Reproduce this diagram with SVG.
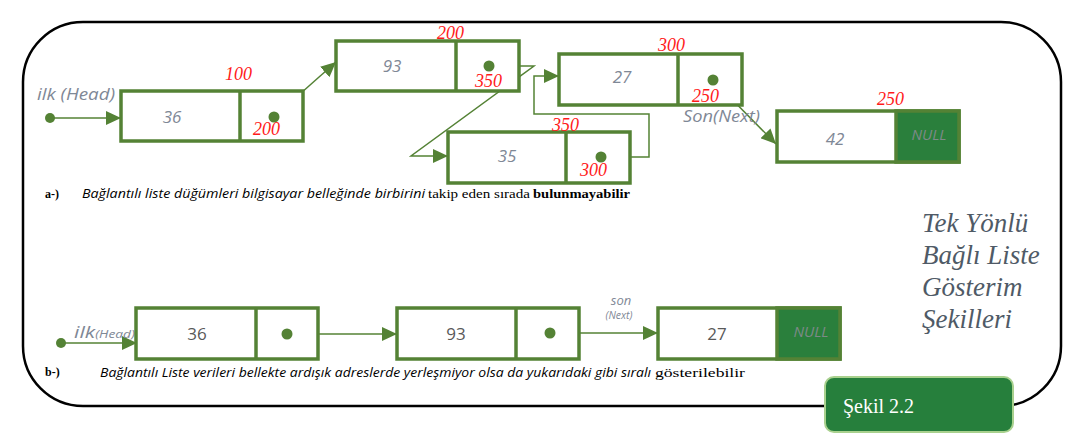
<svg xmlns="http://www.w3.org/2000/svg" width="1078" height="446" viewBox="0 0 1078 446">
<defs>
<style>
.frame{fill:none;stroke:#000;stroke-width:2.5}
.box{fill:#fff;stroke:#548235;stroke-width:3.5}
.div{stroke:#548235;stroke-width:3.5}
.null{fill:#2a7f3c;stroke:#548235;stroke-width:3.5}
.ln{fill:none;stroke:#548235;stroke-width:1.5}
.dot{fill:#548235}
.val{font-family:"Open Sans","Liberation Sans",sans-serif;font-style:italic;font-size:17px;fill:#7f8896;text-anchor:middle}
.val2{font-family:"Open Sans","Liberation Sans",sans-serif;font-size:17px;fill:#595959;text-anchor:middle}
.nul{font-family:"Open Sans","Liberation Sans",sans-serif;font-style:italic;font-size:15px;fill:#7d8a88;text-anchor:middle}
.adr{font-family:"Liberation Serif",serif;font-style:italic;font-size:18px;fill:#ff1a1a}
.lbl{font-family:"Open Sans","Liberation Sans",sans-serif;font-style:italic;fill:#7f8896}
.cap{font-family:"Open Sans","Liberation Sans",sans-serif;font-style:italic;font-size:12px;fill:#000}
.ser{font-family:"Liberation Serif",serif;font-size:13px;fill:#000}
.title{font-family:"Liberation Serif",serif;font-style:italic;font-size:27px;fill:#4f5a66}
</style>
<marker id="ah" markerUnits="userSpaceOnUse" markerWidth="15" markerHeight="14" refX="15" refY="7" orient="auto">
<path d="M0,0 L15,7 L0,14 z" fill="#548235"/>
</marker>
</defs>
<rect width="1078" height="446" fill="#fff"/>
<rect class="frame" x="23" y="22" width="1038" height="384" rx="60" ry="60"/>

<g id="connectors">
<line class="ln" x1="50" y1="118" x2="121" y2="118" marker-end="url(#ah)"/>
<line class="ln" x1="274" y1="117" x2="336" y2="62" marker-end="url(#ah)"/>
<polyline class="ln" points="489,66 534,66 411,156 448,156" marker-end="url(#ah)"/>
<polyline class="ln" points="601,157 649,157 649,114 534,114 534,76 559,76" marker-end="url(#ah)"/>
<line class="ln" x1="713" y1="80" x2="776" y2="144" marker-end="url(#ah)"/>
<line class="ln" x1="61" y1="343" x2="137" y2="343" marker-end="url(#ah)"/>
<line class="ln" x1="287" y1="334" x2="397" y2="334" marker-end="url(#ah)"/>
<line class="ln" x1="550" y1="333" x2="658" y2="333" marker-end="url(#ah)"/>
</g>

<g id="head-top">
<circle class="dot" cx="50" cy="118" r="5"/>
<text class="lbl" x="37" y="100" font-size="17" textLength="78" lengthAdjust="spacingAndGlyphs">ilk (Head)</text>
</g>

<g id="node-36-top">
<rect class="box" x="121" y="91" width="182" height="50"/>
<line class="div" x1="240" y1="91" x2="240" y2="141"/>
<text class="val" x="172" y="123">36</text>
<circle class="dot" cx="274" cy="117" r="5.5"/>
<text class="adr" x="225" y="80">100</text>
<text class="adr" x="253" y="135">200</text>
</g>

<g id="node-93-top">
<rect class="box" x="336" y="41" width="183" height="50"/>
<line class="div" x1="456" y1="41" x2="456" y2="91"/>
<text class="val" x="392" y="72">93</text>
<circle class="dot" cx="489" cy="66" r="5.5"/>
<text class="adr" x="437" y="39">200</text>
<text class="adr" x="475" y="87">350</text>
</g>

<g id="node-35-top">
<rect class="box" x="448" y="132" width="182" height="51"/>
<line class="div" x1="566" y1="132" x2="566" y2="183"/>
<text class="val" x="507" y="162">35</text>
<circle class="dot" cx="601" cy="157" r="5.5"/>
<text class="adr" x="552" y="131">350</text>
<text class="adr" x="580" y="176">300</text>
</g>

<g id="node-27-top">
<rect class="box" x="559" y="54" width="183" height="51"/>
<line class="div" x1="678" y1="54" x2="678" y2="105"/>
<text class="val" x="622" y="83">27</text>
<circle class="dot" cx="713" cy="80" r="5.5"/>
<text class="adr" x="658" y="51">300</text>
<text class="adr" x="692" y="102">250</text>
<text class="lbl" x="683" y="122" font-size="16" textLength="77" lengthAdjust="spacingAndGlyphs">Son(Next)</text>
</g>

<g id="node-42-top">
<rect class="box" x="777" y="111" width="182" height="51"/>
<rect class="null" x="896" y="111" width="63" height="51"/>
<text class="val" x="835" y="145">42</text>
<text class="nul" x="929" y="140">NULL</text>
<text class="adr" x="877" y="105">250</text>
</g>

<g id="caption-a">
<text x="45" y="198" font-family="Liberation Serif,serif" font-weight="bold" font-size="12">a-)</text>
<text class="cap" x="82" y="198" textLength="343" lengthAdjust="spacingAndGlyphs">Bağlantılı liste düğümleri bilgisayar belleğinde birbirini</text>
<text class="ser" x="428" y="198" textLength="102" lengthAdjust="spacingAndGlyphs">takip eden sırada</text>
<text class="ser" x="533" y="198" font-weight="bold" textLength="97" lengthAdjust="spacingAndGlyphs">bulunmayabilir</text>
</g>

<g id="title">
<text class="title" x="922" y="232">Tek Yönlü</text>
<text class="title" x="922" y="264">Bağlı Liste</text>
<text class="title" x="922" y="296">Gösterim</text>
<text class="title" x="922" y="328">Şekilleri</text>
</g>

<g id="head-bottom">
<circle class="dot" cx="61" cy="343" r="5"/>
<text class="lbl" x="74" y="338" font-size="17" textLength="61" lengthAdjust="spacingAndGlyphs">ilk<tspan font-size="11">(Head)</tspan></text>
</g>

<g id="node-36-bottom">
<rect class="box" x="136" y="308" width="182" height="51"/>
<line class="div" x1="256" y1="308" x2="256" y2="359"/>
<text class="val2" x="197" y="340">36</text>
<circle class="dot" cx="287" cy="334" r="5.5"/>
</g>

<g id="node-93-bottom">
<rect class="box" x="397" y="308" width="182" height="51"/>
<line class="div" x1="516" y1="308" x2="516" y2="359"/>
<text class="val2" x="456" y="340">93</text>
<circle class="dot" cx="550" cy="333" r="5.5"/>
<text class="lbl" x="621" y="305" font-size="13" text-anchor="middle">son</text>
<text class="lbl" x="619" y="319" font-size="10.5" text-anchor="middle">(Next)</text>
</g>

<g id="node-27-bottom">
<rect class="box" x="658" y="308" width="182" height="51"/>
<rect class="null" x="777" y="308" width="63" height="51"/>
<text class="val2" x="717" y="340">27</text>
<text class="nul" x="811" y="337">NULL</text>
</g>

<g id="caption-b">
<text x="45" y="376" font-family="Liberation Serif,serif" font-weight="bold" font-size="12">b-)</text>
<text class="cap" x="100" y="377" textLength="551" lengthAdjust="spacingAndGlyphs">Bağlantılı Liste verileri bellekte ardışık adreslerde yerleşmiyor olsa da yukarıdaki gibi sıralı</text>
<text class="ser" x="655" y="377" textLength="90" lengthAdjust="spacingAndGlyphs">gösterilebilir</text>
</g>

<g id="figure-label">
<rect x="825" y="377" width="188" height="55" rx="9" ry="9" fill="#267f3c" stroke="#a9d18e" stroke-width="2"/>
<text x="843" y="413" font-family="Liberation Serif,serif" font-size="20" fill="#fff">Şekil 2.2</text>
</g>
</svg>
